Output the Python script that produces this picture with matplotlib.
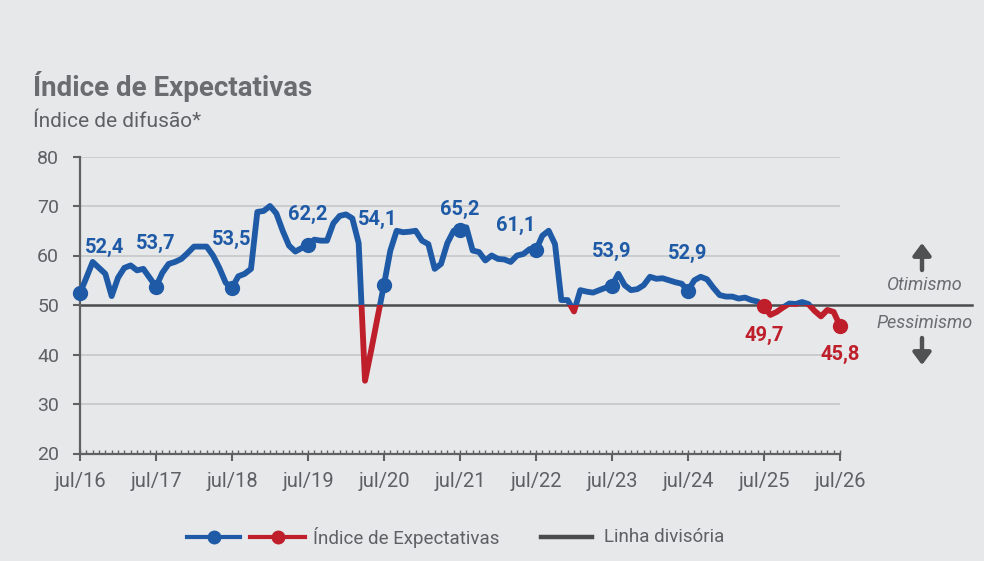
import matplotlib
matplotlib.use("Agg")
import matplotlib.pyplot as plt
from matplotlib.lines import Line2D
from matplotlib.patches import Rectangle

plt.rcParams['font.family'] = ['Roboto', 'DejaVu Sans']

# monthly index, jul/16 .. jul/26
values = [
    52.4, 55.5, 58.7, 57.5, 56.3, 51.8, 55.5, 57.5, 58.0, 57.0, 57.3, 55.5,
    53.7, 56.5, 58.3, 58.7, 59.3, 60.5, 61.8, 61.8, 61.8, 60.0, 57.5, 54.5,
    53.5, 55.8, 56.3, 57.3, 68.8, 69.0, 70.0, 68.5, 65.0, 62.0, 60.8, 61.5,
    62.2, 63.2, 63.0, 63.0, 66.5, 68.0, 68.3, 67.5, 62.5, 34.7, 41.0, 47.6,
    54.1, 61.0, 65.0, 64.7, 64.8, 65.0, 63.0, 62.3, 57.3, 58.3, 62.5, 65.0,
    65.2, 65.7, 61.0, 60.7, 59.0, 60.0, 59.3, 59.2, 58.7, 60.0, 60.3, 61.3,
    61.1, 64.0, 65.0, 62.3, 51.0, 51.0, 48.7, 53.0, 52.7, 52.5, 53.0, 53.5,
    53.9, 56.3, 54.0, 53.0, 53.2, 54.0, 55.7, 55.3, 55.4, 55.0, 54.6, 54.3,
    52.9, 55.0, 55.7, 55.2, 53.5, 52.0, 51.7, 51.7, 51.3, 51.5, 51.0, 50.7,
    49.7, 48.0, 48.6, 49.5, 50.3, 50.2, 50.6, 50.2, 48.8, 47.7, 49.0, 48.6,
    45.8,
]
months = list(range(len(values)))
tick_labels = ["jul/16", "jul/17", "jul/18", "jul/19", "jul/20", "jul/21",
               "jul/22", "jul/23", "jul/24", "jul/25", "jul/26"]
dot_months = [0, 12, 24, 36, 48, 60, 72, 84, 96, 108, 120]
divider = 50

BG = "#E7E8EA"
BLUE = "#1F5AA6"
RED = "#BF1E2B"
TXT = "#6B6C6F"
W, H = 984, 561

def fx(x): return x / W
def fy(y): return 1 - y / H

fig = plt.figure(figsize=(9.84, 5.61), dpi=100, facecolor=BG)
ax = fig.add_axes([fx(80), fy(453.5), 760 / W, 297 / H])
ax.set_facecolor(BG)

for g in [30, 40, 60, 70, 80]:
    ax.axhline(g, color="#C9CACC", lw=1.3, zorder=0)
ax.axhline(divider, xmin=0, xmax=(972 - 80) / 760, color="#4A4B4D", lw=1.8,
           clip_on=False, zorder=1)

# blue above the divider, red below
for col, rect in [(BLUE, Rectangle((-10, divider), 140, 100)),
                  (RED, Rectangle((-10, divider - 100), 140, 100))]:
    rect.set_transform(ax.transData)
    ln, = ax.plot(months, values, color=col, lw=4.2, solid_capstyle="round",
                  solid_joinstyle="round", zorder=3)
    ln.set_clip_path(rect)

# label offsets in pixels (dx, dy)
offsets = [(25, 46), (0, 43), (0, 48), (0, 30), (-6, 65), (0, 20), (-20, 25),
           (0, 34), (0, 37), (0, -29), (0, -29)]
for m, (dx, dy) in zip(dot_months, offsets):
    v = values[m]
    col = BLUE if v >= divider else RED
    ax.plot(m, v, "o", color=col, ms=10, zorder=4, clip_on=False)
    ax.annotate(f"{v:.1f}".replace(".", ","), (m, v), xytext=(dx, dy),
                textcoords="offset pixels", ha="center", va="center",
                fontsize=14.5, fontweight="bold", color=col, zorder=5)

ax.set_xlim(0, 120)
ax.set_ylim(20, 80)
ax.set_yticks(range(20, 81, 10))
ax.set_xticks(dot_months)
ax.set_xticklabels(tick_labels)
ax.set_xticks(months, minor=True)
ax.xaxis.remove_overlapping_locs = False
for s in ["top", "right"]:
    ax.spines[s].set_visible(False)
for s in ["left", "bottom"]:
    ax.spines[s].set_color("#606163")
    ax.spines[s].set_linewidth(1.6)
ax.tick_params(axis="y", direction="out", length=5, width=1.5, color="#606163",
               labelsize=14, labelcolor="#5F6063", pad=10)
ax.tick_params(axis="x", which="major", direction="out", length=5, width=1.5,
               color="#606163", labelsize=14.5, labelcolor="#5F6063", pad=8)
ax.tick_params(axis="x", which="minor", direction="in", length=3, width=1,
               color="#606163")

# titles
fig.text(fx(33), fy(96), "Índice de Expectativas", fontsize=20, fontweight="bold",
         color=TXT, va="baseline")
fig.text(fx(33), fy(127), "Índice de difusão*", fontsize=15, color="#5F6063",
         va="baseline")

# optimism / pessimism
fig.text(fx(925), fy(285.5), "Otimismo", fontsize=13, style="italic", color=TXT,
         ha="center", va="center")
fig.text(fx(925), fy(323), "Pessimismo", fontsize=13, style="italic", color=TXT,
         ha="center", va="center")
arrow = dict(arrowstyle="-|>,head_length=0.4,head_width=0.3", lw=3.2,
             color="#505153", shrinkA=0, shrinkB=0, mutation_scale=18)
ax.annotate("", xy=(922, H - 243), xytext=(922, H - 270), xycoords="figure pixels",
            textcoords="figure pixels", arrowprops=arrow, annotation_clip=False)
ax.annotate("", xy=(922, H - 365), xytext=(922, H - 338), xycoords="figure pixels",
            textcoords="figure pixels", arrowprops=arrow, annotation_clip=False)

# legend
ly = fy(537)
for x1, x2, col in [(187, 240, BLUE), (250, 305, RED)]:
    fig.add_artist(Line2D([fx(x1), fx(x2)], [ly, ly], color=col, lw=3,
                          transform=fig.transFigure))
    fig.add_artist(Line2D([fx((x1 + x2) / 2)], [ly], marker="o", ms=9, color=col,
                          transform=fig.transFigure))
fig.text(fx(313), ly, "Índice de Expectativas", fontsize=13.5, color="#5F6063",
         va="center")
fig.add_artist(Line2D([fx(541), fx(592)], [ly, ly], color="#4A4B4D", lw=3.2,
                      transform=fig.transFigure))
fig.text(fx(604), ly, "Linha divisória", fontsize=13.5, color="#5F6063", va="center")

fig.savefig("out.png", dpi=100, facecolor=BG)
